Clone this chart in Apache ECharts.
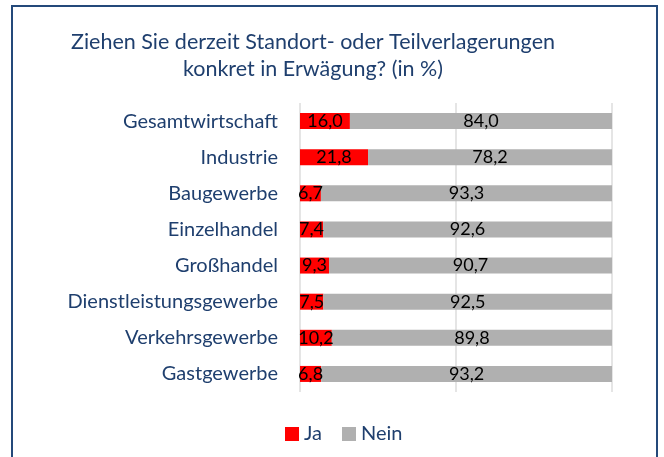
<!DOCTYPE html>
<html>
<head>
<meta charset="utf-8">
<script src="https://cdn.jsdelivr.net/npm/echarts@6/dist/echarts.min.js"></script>
<style>
  html, body { margin: 0; padding: 0; background: #fff; }
  #chart { width: 664px; height: 457px; }
  #frame { position: absolute; left: 11px; top: 5px; width: 647px; height: 470px; border: 2px solid #24497a; box-sizing: border-box; pointer-events: none; }
</style>
</head>
<body>
<div id="chart"></div>
<div id="frame"></div>
<script>
// categories, top to bottom
const categories = ['Gesamtwirtschaft', 'Industrie', 'Baugewerbe', 'Einzelhandel', 'Großhandel', 'Dienstleistungsgewerbe', 'Verkehrsgewerbe', 'Gastgewerbe']
const jaValues = [16.0, 21.8, 6.7, 7.4, 9.3, 7.5, 10.2, 6.8]
const neinValues = [84.0, 78.2, 93.3, 92.6, 90.7, 92.5, 89.8, 93.2]
const xTicks = [0, 50, 100]

const fontFamily = 'Lato, "Noto Sans", sans-serif'
const blue = '#1f3f6e'

const myChart = echarts.init(document.getElementById('chart'))

const fmt = (p) => p.value.toFixed(1).replace('.', ',')

const options = {
  animation: false,
  title: {
    text: 'Ziehen Sie derzeit Standort- oder Teilverlagerungen\nkonkret in Erwägung? (in %)',
    left: 308,
    textAlign: 'center',
    top: 24,
    textStyle: {
      color: blue,
      fontFamily: fontFamily,
      fontWeight: 'normal',
      fontSize: 21.5,
      lineHeight: 27
    }
  },
  legend: {
    top: 419,
    left: 280,
    itemWidth: 14,
    itemHeight: 14,
    itemGap: 20,
    icon: 'rect',
    textStyle: { color: blue, fontFamily: fontFamily, fontSize: 20 },
    data: ['Ja', 'Nein']
  },
  grid: {
    left: 300,
    right: 52,
    top: 103,
    bottom: 65
  },
  xAxis: {
    type: 'value',
    min: xTicks[0],
    max: xTicks[xTicks.length - 1],
    interval: 50,
    axisLabel: { show: false },
    axisLine: { show: false },
    axisTick: { show: false },
    splitLine: { lineStyle: { color: '#dcdcdc', width: 1.5 } }
  },
  yAxis: {
    type: 'category',
    inverse: true,
    data: categories,
    axisLine: { show: false },
    axisTick: { show: false },
    axisLabel: {
      color: blue,
      fontFamily: fontFamily,
      fontSize: 20,
      margin: 22
    }
  },
  series: [
    {
      name: 'Ja',
      type: 'bar',
      stack: 'total',
      barWidth: 16,
      itemStyle: { color: '#ff0000' },
      label: {
        show: true,
        position: 'inside',
        color: '#000',
        fontFamily: fontFamily,
        fontSize: 18,
        formatter: fmt
      },
      data: jaValues
    },
    {
      name: 'Nein',
      type: 'bar',
      stack: 'total',
      barWidth: 16,
      itemStyle: { color: '#b0b0b0' },
      label: {
        show: true,
        position: 'inside',
        color: '#000',
        fontFamily: fontFamily,
        fontSize: 18,
        formatter: fmt
      },
      data: neinValues
    }
  ]
}
myChart.setOption(options)
</script>
</body>
</html>
